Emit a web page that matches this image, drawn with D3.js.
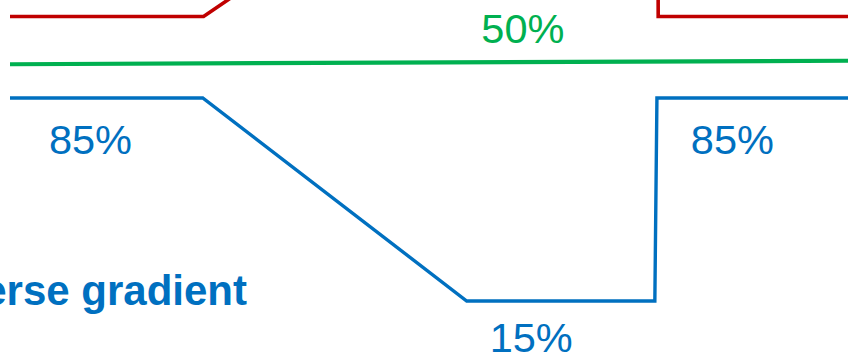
<!DOCTYPE html>
<html>
<head>
<meta charset="utf-8">
<script src="https://cdn.jsdelivr.net/npm/d3@7"></script>
<style>
  html, body { margin: 0; padding: 0; background: #fff; }
  svg { display: block; }
</style>
</head>
<body>
<svg id="chart" width="848" height="355"></svg>
<script>
// ---- data ----
// positions along the horizontal axis (arbitrary units 0..100)
const redT   = [0, 23.1, 54.5, 77.3, 77.35, 100];
const redV   = [15, 15, 85, 85, 15, 15];          // normal gradient (upper part cropped)
const greenT = [0, 100];
const greenV = [49.4, 50.6];                      // constant ~50%
const blueT  = [0, 23, 54.5, 76.95, 77.2, 100];
const blueV  = [85, 85, 15, 15, 85, 85];          // reverse gradient
const blueLabelT = [9.6, 62.2, 86.2];
const blueLabelV = [85, 15, 85];
const greenLabelT = [61.2];
const greenLabelV = [50];
const titleText = "Reverse gradient";

// ---- layout ----
const W = 848, H = 355;
const svg = d3.select("#chart");
const x = d3.scaleLinear().domain([0, 100]).range([10, 848]);
const yBlue  = d3.scaleLinear().domain([15, 85]).range([301, 98]);
const yGreen = d3.scaleLinear().domain([15, 85]).range([163.5, -38.5]);
const yRed   = d3.scaleLinear().domain([15, 85]).range([16.5, -163]);

const colors = { red: "#C00000", green: "#00B050", blue: "#0070C0" };
const font = "Arial, 'Liberation Sans', Helvetica, sans-serif";

function drawLine(T, V, y, color, width) {
  const pts = T.map((t, i) => [t, V[i]]);
  svg.append("path")
    .datum(pts)
    .attr("fill", "none")
    .attr("stroke", color)
    .attr("stroke-width", width)
    .attr("stroke-linejoin", "miter")
    .attr("d", d3.line().x(d => x(d[0])).y(d => y(d[1])));
}

drawLine(redT, redV, yRed, colors.red, 3.6);
drawLine(greenT, greenV, yGreen, colors.green, 4.2);
drawLine(blueT, blueV, yBlue, colors.blue, 3.4);

// blue labels below the line
const blueOffsets = [56, 51, 56];
svg.selectAll("text.blue-lbl")
  .data(blueLabelT.map((t, i) => ({ t, v: blueLabelV[i], off: blueOffsets[i] })))
  .enter().append("text")
  .attr("class", "blue-lbl")
  .attr("x", d => x(d.t))
  .attr("y", d => yBlue(d.v) + d.off)
  .attr("text-anchor", "middle")
  .attr("font-family", font)
  .attr("font-size", 41.5)
  .attr("fill", colors.blue)
  .text(d => d.v + "%");

// green label above the line
const greenLineAt = t => {
  const v = greenV[0] + (greenV[1] - greenV[0]) * (t - greenT[0]) / (greenT[1] - greenT[0]);
  return yGreen(v);
};
svg.selectAll("text.green-lbl")
  .data(greenLabelT.map((t, i) => ({ t, v: greenLabelV[i] })))
  .enter().append("text")
  .attr("class", "green-lbl")
  .attr("x", d => x(d.t))
  .attr("y", d => greenLineAt(d.t) - 18.8)
  .attr("text-anchor", "middle")
  .attr("font-family", font)
  .attr("font-size", 41.5)
  .attr("fill", colors.green)
  .text(d => d.v + "%");

// title (cropped on the left)
svg.append("text")
  .attr("x", 247)
  .attr("y", 305)
  .attr("text-anchor", "end")
  .attr("font-family", font)
  .attr("font-weight", "bold")
  .attr("font-size", 42)
  .attr("fill", colors.blue)
  .text(titleText);
</script>
</body>
</html>
